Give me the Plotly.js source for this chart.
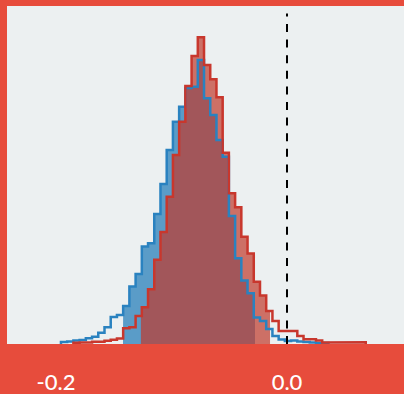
<!DOCTYPE html>
<html>
<head>
<meta charset="utf-8">
<script src="https://cdn.plot.ly/plotly-3.0.1.min.js"></script>
<style>html,body{margin:0;padding:0;background:#E74C3C;}#chart{width:404px;height:394px;}</style>
</head>
<body>
<div id="chart"></div>
<script>
// Shared histogram bins
const binStart = -0.1957;
const binWidth = 0.005385;

// Blue series (first bin index 0)
const blueFirst = 0;
const blueCounts = [2, 2.5, 3.5, 4, 5.7, 7.3, 11.3, 16.7, 27, 29, 38, 57.5, 70, 97.5, 100.7,
  130, 160, 194, 222.3, 237.3, 256, 257.3, 284, 245.7, 229, 204, 187.3, 128, 85.7, 63.5,
  50.7, 26.5, 23, 15, 8, 4.5, 3, 3.5, 2.5, 2, 1.5, 1, 1];
// Red series (first bin index 2)
const redFirst = 2;
const redCounts = [1.3, 1.5, 1.5, 2.3, 2.3, 3.3, 4.3, 5.6, 15.7, 16.7, 28, 36.7, 54.7,
  84.3, 112, 147.3, 189, 222.3, 258, 288, 306.7, 279, 264.7, 246.7, 191.3, 150.7, 136.7,
  107.3, 90.5, 62.3, 48.5, 33, 23, 13, 12.5, 13, 8, 4.7, 4.7, 3.5, 1.5, 1.5, 1.3, 1.3, 1.3, 1.8, 1.8];

// Shaded intervals
const blueInterval = [-0.1420, -0.0277];
const redInterval = [-0.1265, -0.0147];

const tickVals = [-0.2, 0.0];
const tickLabels = ['-0.2', '0.0'];
const refLine = 0;

function stepXY(first, counts) {
  const xs = [], ys = [];
  const x0 = binStart + first * binWidth;
  xs.push(x0); ys.push(0);
  let b = x0;
  counts.forEach((c, i) => {
    const a = binStart + (first + i) * binWidth;
    b = a + binWidth;
    xs.push(a, b); ys.push(c, c);
  });
  xs.push(b); ys.push(0);
  return {x: xs, y: ys};
}
function fillXY(first, counts, lo, hi) {
  const xs = [lo], ys = [0];
  counts.forEach((c, i) => {
    const a = binStart + (first + i) * binWidth, b = a + binWidth;
    const a2 = Math.max(a, lo), b2 = Math.min(b, hi);
    if (a2 < b2) { xs.push(a2, b2); ys.push(c, c); }
  });
  xs.push(hi); ys.push(0);
  return {x: xs, y: ys};
}

const bl = stepXY(blueFirst, blueCounts), rl = stepXY(redFirst, redCounts);
const bf = fillXY(blueFirst, blueCounts, blueInterval[0], blueInterval[1]);
const rf = fillXY(redFirst, redCounts, redInterval[0], redInterval[1]);

const traces = [
  {x: bf.x, y: bf.y, mode: 'lines', fill: 'toself', fillcolor: 'rgba(41,128,185,0.75)', line: {width: 0}, hoverinfo: 'skip'},
  {x: rf.x, y: rf.y, mode: 'lines', fill: 'toself', fillcolor: 'rgba(192,57,43,0.7)', line: {width: 0}, hoverinfo: 'skip'},
  {x: bl.x, y: bl.y, mode: 'lines', line: {color: '#2A82C0', width: 2.5}, hoverinfo: 'skip'},
  {x: rl.x, y: rl.y, mode: 'lines', line: {color: '#C8372D', width: 2.5}, hoverinfo: 'skip'}
];

const layout = {
  width: 404, height: 394,
  margin: {l: 7, r: 0, t: 6, b: 50, pad: 0},
  paper_bgcolor: '#E74C3C',
  plot_bgcolor: '#ECF0F1',
  showlegend: false,
  hovermode: false,
  xaxis: {
    range: [-0.24242, 0.1013],
    showgrid: false, zeroline: false, showline: false, ticks: '',
    tickvals: tickVals, ticktext: tickLabels,
    tickfont: {family: 'Lato, sans-serif', size: 22, color: '#FFFFFF', weight: 500},
    ticklabelstandoff: 23
  },
  yaxis: {range: [0, 338], visible: false, fixedrange: true},
  shapes: [{
    type: 'line', xref: 'x', yref: 'paper', x0: refLine, x1: refLine, y0: 0, y1: 0.978,
    line: {color: '#000000', width: 2, dash: '8px,7.6px'}
  }]
};

Plotly.newPlot('chart', traces, layout, {staticPlot: true, displayModeBar: false});
</script>
</body>
</html>
